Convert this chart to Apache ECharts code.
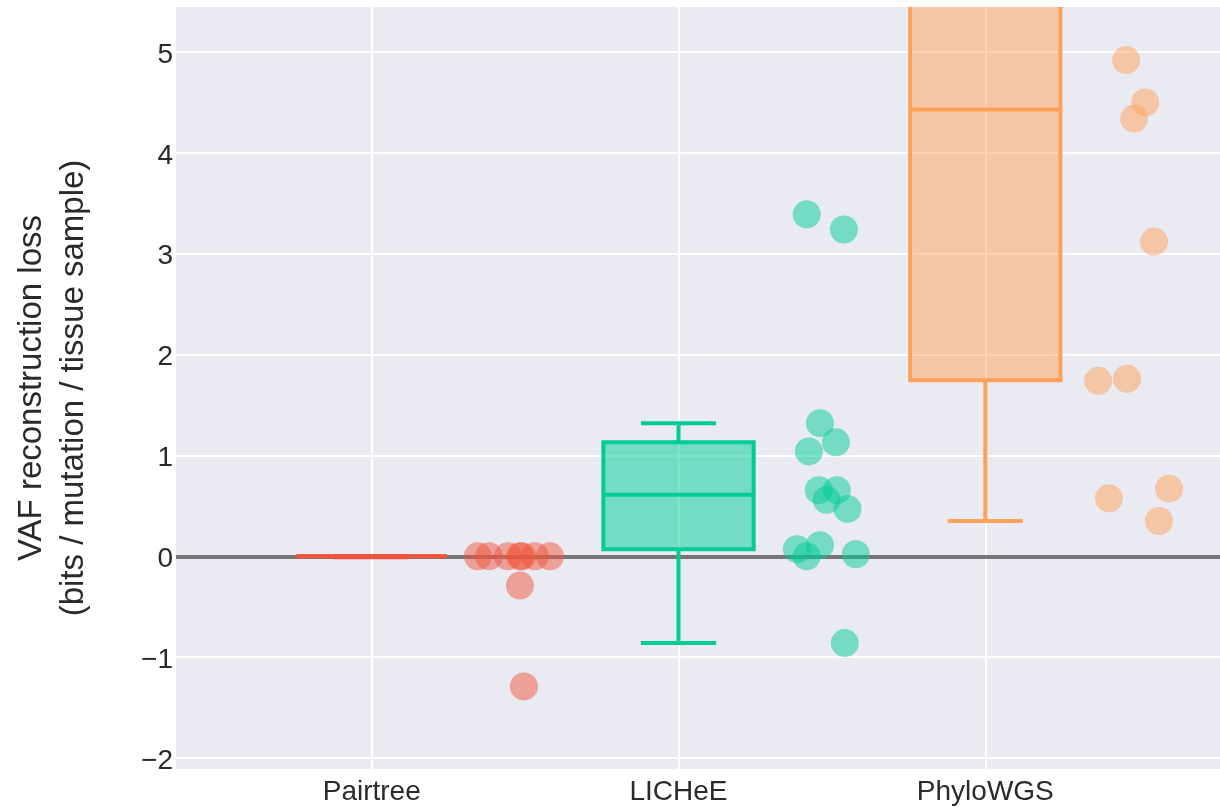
<!DOCTYPE html>
<html>
<head>
<meta charset="utf-8">
<title>VAF reconstruction loss by method</title>
<script src="https://cdn.jsdelivr.net/npm/echarts@6/dist/echarts.min.js"></script>
<style>
  html, body { margin: 0; padding: 0; background: #ffffff; }
  #chart { width: 1220px; height: 807px; }
</style>
</head>
<body>
<div id="chart"></div>
<script>
// Methods compared, in axis order
const methods = ['Pairtree', 'LICHeE', 'PhyloWGS'];
const methodColors = ['#EF553B', '#00CC96', '#FFA15A'];

// Per-dataset VAF reconstruction loss (bits / mutation / tissue sample)
const pairtreeLoss = [0, 0, 0, 0, 0, 0, 0, -0.29, -1.29];
const licheeLoss = [1.32, 1.13, 1.04, 0.655, 0.655, 0.56, 0.47, 0.07, 0.11, 0.0, 0.02, -0.86, 3.39, 3.24];
const phylowgsLoss = [4.92, 4.50, 4.34, 3.12, 1.76, 1.74, 0.67, 0.575, 0.35];

// Horizontal jitter of each point, in category units from the method's centre
const pairtreeJitter = [0.346, 0.382, 0.444, 0.483, 0.490, 0.532, 0.581, 0.483, 0.496];
const licheeJitter = [0.461, 0.513, 0.425, 0.457, 0.516, 0.483, 0.551, 0.386, 0.461, 0.418, 0.578, 0.542, 0.418, 0.539];
const phylowgsJitter = [0.459, 0.521, 0.485, 0.550, 0.462, 0.368, 0.599, 0.403, 0.566];

// Box summaries per method: lower whisker, Q1, median, Q3, upper whisker
const boxLow = [-0.01, -0.86, 0.35];
const boxQ1 = [0, 0.07, 1.745];
const boxMedian = [0, 0.61, 4.43];
const boxQ3 = [0, 1.13, 7.2];
const boxHigh = [0, 1.32, 9.8];

// Axis ticks
const yTicks = [-2, -1, 0, 1, 2, 3, 4, 5];
const xTicks = [0, 1, 2];

const losses = [pairtreeLoss, licheeLoss, phylowgsLoss];
const jitters = [pairtreeJitter, licheeJitter, phylowgsJitter];

const BOX_HALF = 0.245;     // half box width, category units
const CAP_HALF = BOX_HALF / 2;
const LINE_W = 4;
const FONT = '"Liberation Sans", Arial, sans-serif';
const TEXT_COLOR = '#2a2a2a';

function fade(hex, a) {
  const n = parseInt(hex.slice(1), 16);
  return 'rgba(' + ((n >> 16) & 255) + ',' + ((n >> 8) & 255) + ',' + (n & 255) + ',' + a + ')';
}

const boxData = methods.map((m, i) => [i, boxLow[i], boxQ1[i], boxMedian[i], boxQ3[i], boxHigh[i]]);

function renderBox(params, api) {
  const i = api.value(0);
  const color = methodColors[i];
  const xL = api.coord([i - BOX_HALF, 0])[0];
  const xR = api.coord([i + BOX_HALF, 0])[0];
  const xC = api.coord([i, 0])[0];
  const cL = api.coord([i - CAP_HALF, 0])[0];
  const cR = api.coord([i + CAP_HALF, 0])[0];
  const yLow = api.coord([i, api.value(1)])[1];
  const yQ1 = api.coord([i, api.value(2)])[1];
  const yMed = api.coord([i, api.value(3)])[1];
  const yQ3 = api.coord([i, api.value(4)])[1];
  const yHigh = api.coord([i, api.value(5)])[1];
  const line = (x1, y1, x2, y2) => ({
    type: 'line',
    shape: { x1: x1, y1: y1, x2: x2, y2: y2 },
    style: { stroke: color, lineWidth: LINE_W }
  });
  return {
    type: 'group',
    children: [
      line(xC, yQ3, xC, yHigh),
      line(xC, yQ1, xC, yLow),
      line(cL, yHigh, cR, yHigh),
      line(cL, yLow, cR, yLow),
      {
        type: 'rect',
        shape: { x: xL, y: yQ3, width: xR - xL, height: yQ1 - yQ3 },
        style: { fill: fade(color, 0.5), stroke: color, lineWidth: LINE_W }
      },
      line(xL, yMed, xR, yMed)
    ]
  };
}

const pointSeries = methods.map((m, i) => ({
  name: m,
  type: 'scatter',
  z: 4,
  symbol: 'circle',
  symbolSize: 28,
  clip: true,
  itemStyle: { color: methodColors[i], opacity: 0.5 },
  emphasis: { disabled: true },
  data: losses[i].map((v, k) => [i + jitters[i][k], v])
}));

const chart = echarts.init(document.getElementById('chart'), null, { renderer: 'canvas' });

chart.setOption({
  animation: false,
  backgroundColor: '#ffffff',
  textStyle: { fontFamily: FONT },
  grid: {
    left: 176, right: 0, top: 7, bottom: 38,
    show: true, backgroundColor: '#EAEAF2', borderWidth: 0,
    containLabel: false
  },
  xAxis: {
    type: 'value',
    min: -0.638, max: 2.765,
    axisLine: { show: false },
    axisTick: { show: false, customValues: xTicks },
    axisLabel: {
      customValues: xTicks,
      formatter: v => methods[Math.round(v)],
      fontSize: 28, color: TEXT_COLOR, fontFamily: FONT, margin: 9
    },
    splitLine: { show: true, lineStyle: { color: '#ffffff', width: 2 } }
  },
  yAxis: {
    type: 'value',
    min: -2.109, max: 5.446,
    name: 'VAF reconstruction loss\n(bits / mutation / tissue sample)',
    nameLocation: 'middle',
    nameGap: 81,
    nameTextStyle: { fontSize: 33, lineHeight: 42, color: TEXT_COLOR, fontFamily: FONT },
    axisLine: { show: false },
    axisTick: { show: false, customValues: yTicks },
    axisLabel: {
      customValues: yTicks,
      formatter: v => (v < 0 ? '\u2212' + Math.abs(v) : String(v)),
      fontSize: 28, color: TEXT_COLOR, fontFamily: FONT, margin: 3,
      verticalAlign: 'top', lineHeight: 6
    },
    splitLine: { show: true, lineStyle: { color: '#ffffff', width: 2 } }
  },
  series: [
    {
      name: 'zero',
      type: 'line',
      z: 1,
      data: [],
      silent: true,
      markLine: {
        z: 1,
        silent: true,
        symbol: 'none',
        label: { show: false },
        emphasis: { disabled: true },
        lineStyle: { color: '#767676', width: 4, type: 'solid' },
        data: [{ yAxis: 0 }]
      }
    },
    {
      name: 'boxes',
      type: 'custom',
      z: 3,
      clip: true,
      silent: true,
      renderItem: renderBox,
      encode: { x: 0, y: [1, 2, 3, 4, 5] },
      data: boxData
    }
  ].concat(pointSeries)
});
</script>
</body>
</html>
